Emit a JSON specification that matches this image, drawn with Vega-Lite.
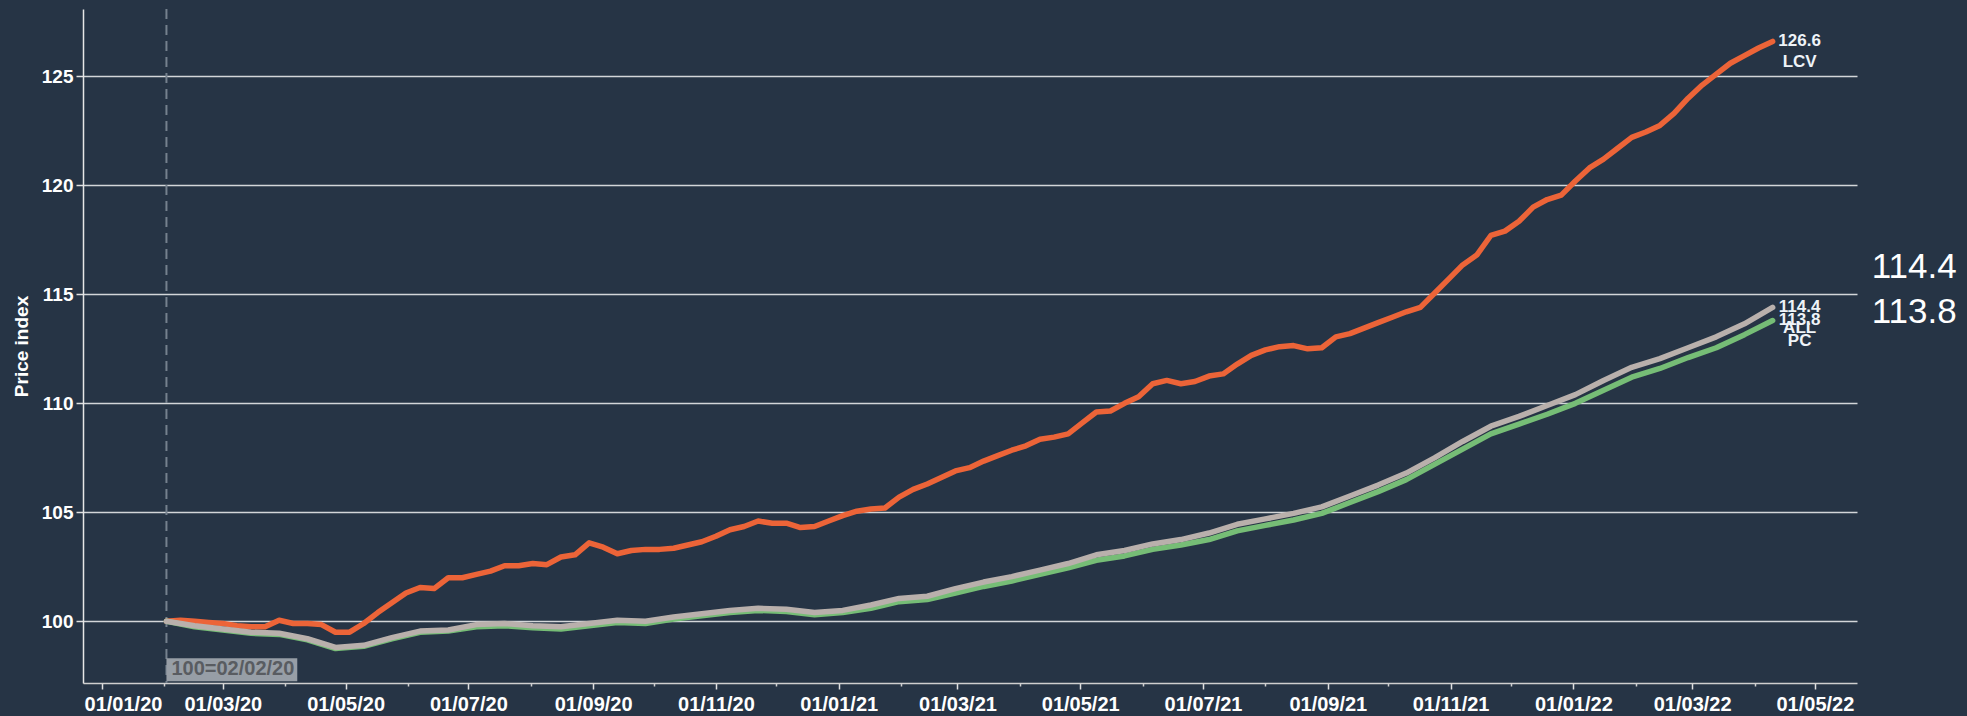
{
"$schema": "https://vega.github.io/schema/vega-lite/v6.json",
"width": 1774, "height": 674,
"autosize": {"type": "none"},
"padding": {"left": 83, "top": 9, "right": 110, "bottom": 33},
"background": "#263445",
"config": {"view": {"stroke": null}, "font": "Liberation Sans"},
"datasets": {
"series": [
{"date":"2020-02-02","series":"LCV","value":100.0},{"date":"2020-02-09","series":"LCV","value":100.05},{"date":"2020-02-16","series":"LCV","value":100.0},{"date":"2020-02-23","series":"LCV","value":99.95},{"date":"2020-03-01","series":"LCV","value":99.9},{"date":"2020-03-08","series":"LCV","value":99.8},{"date":"2020-03-15","series":"LCV","value":99.75},{"date":"2020-03-22","series":"LCV","value":99.75},{"date":"2020-03-29","series":"LCV","value":100.05},{"date":"2020-04-05","series":"LCV","value":99.9},{"date":"2020-04-12","series":"LCV","value":99.9},{"date":"2020-04-19","series":"LCV","value":99.85},{"date":"2020-04-26","series":"LCV","value":99.5},{"date":"2020-05-03","series":"LCV","value":99.5},{"date":"2020-05-10","series":"LCV","value":99.9},{"date":"2020-05-17","series":"LCV","value":100.4},{"date":"2020-05-24","series":"LCV","value":100.85},{"date":"2020-05-31","series":"LCV","value":101.3},{"date":"2020-06-07","series":"LCV","value":101.55},{"date":"2020-06-14","series":"LCV","value":101.5},{"date":"2020-06-21","series":"LCV","value":102.0},{"date":"2020-06-28","series":"LCV","value":102.0},{"date":"2020-07-05","series":"LCV","value":102.15},{"date":"2020-07-12","series":"LCV","value":102.3},{"date":"2020-07-19","series":"LCV","value":102.55},{"date":"2020-07-26","series":"LCV","value":102.55},{"date":"2020-08-02","series":"LCV","value":102.65},{"date":"2020-08-09","series":"LCV","value":102.6},{"date":"2020-08-16","series":"LCV","value":102.95},{"date":"2020-08-23","series":"LCV","value":103.05},{"date":"2020-08-30","series":"LCV","value":103.6},{"date":"2020-09-06","series":"LCV","value":103.4},{"date":"2020-09-13","series":"LCV","value":103.1},{"date":"2020-09-20","series":"LCV","value":103.25},{"date":"2020-09-27","series":"LCV","value":103.3},{"date":"2020-10-04","series":"LCV","value":103.3},{"date":"2020-10-11","series":"LCV","value":103.35},{"date":"2020-10-18","series":"LCV","value":103.5},{"date":"2020-10-25","series":"LCV","value":103.65},{"date":"2020-11-01","series":"LCV","value":103.9},{"date":"2020-11-08","series":"LCV","value":104.2},{"date":"2020-11-15","series":"LCV","value":104.35},{"date":"2020-11-22","series":"LCV","value":104.6},{"date":"2020-11-29","series":"LCV","value":104.5},{"date":"2020-12-06","series":"LCV","value":104.5},{"date":"2020-12-13","series":"LCV","value":104.3},{"date":"2020-12-20","series":"LCV","value":104.35},{"date":"2020-12-27","series":"LCV","value":104.6},
{"date":"2021-01-03","series":"LCV","value":104.85},{"date":"2021-01-10","series":"LCV","value":105.05},{"date":"2021-01-17","series":"LCV","value":105.15},{"date":"2021-01-24","series":"LCV","value":105.2},{"date":"2021-01-31","series":"LCV","value":105.7},{"date":"2021-02-07","series":"LCV","value":106.05},{"date":"2021-02-14","series":"LCV","value":106.3},{"date":"2021-02-21","series":"LCV","value":106.6},{"date":"2021-02-28","series":"LCV","value":106.9},{"date":"2021-03-07","series":"LCV","value":107.05},{"date":"2021-03-14","series":"LCV","value":107.35},{"date":"2021-03-21","series":"LCV","value":107.6},{"date":"2021-03-28","series":"LCV","value":107.85},{"date":"2021-04-04","series":"LCV","value":108.05},{"date":"2021-04-11","series":"LCV","value":108.35},{"date":"2021-04-18","series":"LCV","value":108.45},{"date":"2021-04-25","series":"LCV","value":108.6},{"date":"2021-05-02","series":"LCV","value":109.1},{"date":"2021-05-09","series":"LCV","value":109.6},{"date":"2021-05-16","series":"LCV","value":109.65},{"date":"2021-05-23","series":"LCV","value":110.0},{"date":"2021-05-30","series":"LCV","value":110.3},{"date":"2021-06-06","series":"LCV","value":110.9},{"date":"2021-06-13","series":"LCV","value":111.05},{"date":"2021-06-20","series":"LCV","value":110.9},{"date":"2021-06-27","series":"LCV","value":111.0},{"date":"2021-07-04","series":"LCV","value":111.25},{"date":"2021-07-11","series":"LCV","value":111.35},{"date":"2021-07-18","series":"LCV","value":111.8},{"date":"2021-07-25","series":"LCV","value":112.2},{"date":"2021-08-01","series":"LCV","value":112.45},{"date":"2021-08-08","series":"LCV","value":112.6},{"date":"2021-08-15","series":"LCV","value":112.65},{"date":"2021-08-22","series":"LCV","value":112.5},{"date":"2021-08-29","series":"LCV","value":112.55},{"date":"2021-09-05","series":"LCV","value":113.05},{"date":"2021-09-12","series":"LCV","value":113.2},{"date":"2021-09-19","series":"LCV","value":113.45},{"date":"2021-09-26","series":"LCV","value":113.7},{"date":"2021-10-03","series":"LCV","value":113.95},{"date":"2021-10-10","series":"LCV","value":114.2},{"date":"2021-10-17","series":"LCV","value":114.4},{"date":"2021-10-24","series":"LCV","value":115.05},{"date":"2021-10-31","series":"LCV","value":115.7},{"date":"2021-11-07","series":"LCV","value":116.35},{"date":"2021-11-14","series":"LCV","value":116.8},{"date":"2021-11-21","series":"LCV","value":117.7},{"date":"2021-11-28","series":"LCV","value":117.9},{"date":"2021-12-05","series":"LCV","value":118.35},{"date":"2021-12-12","series":"LCV","value":119.0},{"date":"2021-12-19","series":"LCV","value":119.35},{"date":"2021-12-26","series":"LCV","value":119.55},
{"date":"2022-01-02","series":"LCV","value":120.2},{"date":"2022-01-09","series":"LCV","value":120.8},{"date":"2022-01-16","series":"LCV","value":121.2},{"date":"2022-01-23","series":"LCV","value":121.7},{"date":"2022-01-30","series":"LCV","value":122.2},{"date":"2022-02-06","series":"LCV","value":122.45},{"date":"2022-02-13","series":"LCV","value":122.75},{"date":"2022-02-20","series":"LCV","value":123.3},{"date":"2022-02-27","series":"LCV","value":124.0},{"date":"2022-03-06","series":"LCV","value":124.6},{"date":"2022-03-13","series":"LCV","value":125.1},{"date":"2022-03-20","series":"LCV","value":125.6},{"date":"2022-03-27","series":"LCV","value":125.95},{"date":"2022-04-03","series":"LCV","value":126.3},{"date":"2022-04-10","series":"LCV","value":126.6},
{"date":"2020-02-02","series":"PC","value":100.0},{"date":"2020-02-16","series":"PC","value":99.75},{"date":"2020-03-01","series":"PC","value":99.6},{"date":"2020-03-15","series":"PC","value":99.45},{"date":"2020-03-29","series":"PC","value":99.4},{"date":"2020-04-12","series":"PC","value":99.15},{"date":"2020-04-26","series":"PC","value":98.75},{"date":"2020-05-10","series":"PC","value":98.85},{"date":"2020-05-24","series":"PC","value":99.2},{"date":"2020-06-07","series":"PC","value":99.5},{"date":"2020-06-21","series":"PC","value":99.55},{"date":"2020-07-05","series":"PC","value":99.75},{"date":"2020-07-19","series":"PC","value":99.8},{"date":"2020-08-02","series":"PC","value":99.7},{"date":"2020-08-16","series":"PC","value":99.65},{"date":"2020-08-30","series":"PC","value":99.8},{"date":"2020-09-13","series":"PC","value":99.95},{"date":"2020-09-27","series":"PC","value":99.9},{"date":"2020-10-11","series":"PC","value":100.1},{"date":"2020-10-25","series":"PC","value":100.25},{"date":"2020-11-08","series":"PC","value":100.4},{"date":"2020-11-22","series":"PC","value":100.5},{"date":"2020-12-06","series":"PC","value":100.45},{"date":"2020-12-20","series":"PC","value":100.3},{"date":"2021-01-03","series":"PC","value":100.4},{"date":"2021-01-17","series":"PC","value":100.6},{"date":"2021-01-31","series":"PC","value":100.9},{"date":"2021-02-14","series":"PC","value":101.0},{"date":"2021-02-28","series":"PC","value":101.3},{"date":"2021-03-14","series":"PC","value":101.6},{"date":"2021-03-28","series":"PC","value":101.85},{"date":"2021-04-11","series":"PC","value":102.15},{"date":"2021-04-25","series":"PC","value":102.45},{"date":"2021-05-09","series":"PC","value":102.8},{"date":"2021-05-23","series":"PC","value":103.0},{"date":"2021-06-06","series":"PC","value":103.3},{"date":"2021-06-20","series":"PC","value":103.5},{"date":"2021-07-04","series":"PC","value":103.75},{"date":"2021-07-18","series":"PC","value":104.15},{"date":"2021-08-01","series":"PC","value":104.4},{"date":"2021-08-15","series":"PC","value":104.65},{"date":"2021-08-29","series":"PC","value":104.95},{"date":"2021-09-12","series":"PC","value":105.45},{"date":"2021-09-26","series":"PC","value":105.95},{"date":"2021-10-10","series":"PC","value":106.5},{"date":"2021-10-24","series":"PC","value":107.2},{"date":"2021-11-07","series":"PC","value":107.9},{"date":"2021-11-21","series":"PC","value":108.6},{"date":"2021-12-05","series":"PC","value":109.05},{"date":"2021-12-19","series":"PC","value":109.5},{"date":"2022-01-02","series":"PC","value":110.0},{"date":"2022-01-16","series":"PC","value":110.6},{"date":"2022-01-30","series":"PC","value":111.2},{"date":"2022-02-13","series":"PC","value":111.6},{"date":"2022-02-27","series":"PC","value":112.1},{"date":"2022-03-13","series":"PC","value":112.55},{"date":"2022-03-27","series":"PC","value":113.15},{"date":"2022-04-10","series":"PC","value":113.8},
{"date":"2020-02-02","series":"ALL","value":100.0},{"date":"2020-02-16","series":"ALL","value":99.8},{"date":"2020-03-01","series":"ALL","value":99.65},{"date":"2020-03-15","series":"ALL","value":99.5},{"date":"2020-03-29","series":"ALL","value":99.45},{"date":"2020-04-12","series":"ALL","value":99.2},{"date":"2020-04-26","series":"ALL","value":98.8},{"date":"2020-05-10","series":"ALL","value":98.9},{"date":"2020-05-24","series":"ALL","value":99.25},{"date":"2020-06-07","series":"ALL","value":99.55},{"date":"2020-06-21","series":"ALL","value":99.6},{"date":"2020-07-05","series":"ALL","value":99.85},{"date":"2020-07-19","series":"ALL","value":99.9},{"date":"2020-08-02","series":"ALL","value":99.8},{"date":"2020-08-16","series":"ALL","value":99.75},{"date":"2020-08-30","series":"ALL","value":99.9},{"date":"2020-09-13","series":"ALL","value":100.05},{"date":"2020-09-27","series":"ALL","value":100.0},{"date":"2020-10-11","series":"ALL","value":100.2},{"date":"2020-10-25","series":"ALL","value":100.35},{"date":"2020-11-08","series":"ALL","value":100.5},{"date":"2020-11-22","series":"ALL","value":100.6},{"date":"2020-12-06","series":"ALL","value":100.55},{"date":"2020-12-20","series":"ALL","value":100.4},{"date":"2021-01-03","series":"ALL","value":100.5},{"date":"2021-01-17","series":"ALL","value":100.75},{"date":"2021-01-31","series":"ALL","value":101.05},{"date":"2021-02-14","series":"ALL","value":101.15},{"date":"2021-02-28","series":"ALL","value":101.5},{"date":"2021-03-14","series":"ALL","value":101.8},{"date":"2021-03-28","series":"ALL","value":102.05},{"date":"2021-04-11","series":"ALL","value":102.35},{"date":"2021-04-25","series":"ALL","value":102.65},{"date":"2021-05-09","series":"ALL","value":103.05},{"date":"2021-05-23","series":"ALL","value":103.25},{"date":"2021-06-06","series":"ALL","value":103.55},{"date":"2021-06-20","series":"ALL","value":103.75},{"date":"2021-07-04","series":"ALL","value":104.05},{"date":"2021-07-18","series":"ALL","value":104.45},{"date":"2021-08-01","series":"ALL","value":104.7},{"date":"2021-08-15","series":"ALL","value":104.95},{"date":"2021-08-29","series":"ALL","value":105.25},{"date":"2021-09-12","series":"ALL","value":105.75},{"date":"2021-09-26","series":"ALL","value":106.25},{"date":"2021-10-10","series":"ALL","value":106.8},{"date":"2021-10-24","series":"ALL","value":107.5},{"date":"2021-11-07","series":"ALL","value":108.25},{"date":"2021-11-21","series":"ALL","value":108.95},{"date":"2021-12-05","series":"ALL","value":109.4},{"date":"2021-12-19","series":"ALL","value":109.9},{"date":"2022-01-02","series":"ALL","value":110.4},{"date":"2022-01-16","series":"ALL","value":111.05},{"date":"2022-01-30","series":"ALL","value":111.65},{"date":"2022-02-13","series":"ALL","value":112.05},{"date":"2022-02-27","series":"ALL","value":112.55},{"date":"2022-03-13","series":"ALL","value":113.05},{"date":"2022-03-27","series":"ALL","value":113.65},{"date":"2022-04-10","series":"ALL","value":114.4}
],
"ends": [
{"date":"2022-04-10","series":"LCV","value":126.6,"label":"126.6\nLCV"},
{"date":"2022-04-10","series":"ALL","value":114.4,"label":"114.4\nALL"},
{"date":"2022-04-10","series":"PC","value":113.8,"label":"113.8\nPC"}
],
"note": [
{"date":"2020-02-02","end":"2020-04-07","low":97.25,"high":98.3,"mid":97.8,"label":"100=02/02/20"}
]
},
"layer": [
{
"data": {"name": "note"},
"mark": {"type": "rule", "color": "#75818e", "strokeWidth": 2, "strokeDash": [10, 6]},
"encoding": {
"x": {"field": "date", "type": "temporal",
"scale": {"type": "utc", "nice": false, "domain": [{"year": 2019, "month": "Dec", "date": 22, "hours": 13, "utc": true}, {"year": 2022, "month": "May", "date": 21, "hours": 22, "utc": true}]},
"axis": {"orient": "bottom", "title": null, "labels": false, "domain": false, "grid": false, "tickSize": 3, "tickColor": "#d0d0d0", "tickWidth": 1.5,
"values": [{"year":2020,"month":"Feb","date":1,"utc":true},{"year":2020,"month":"Apr","date":1,"utc":true},{"year":2020,"month":"Jun","date":1,"utc":true},{"year":2020,"month":"Aug","date":1,"utc":true},{"year":2020,"month":"Oct","date":1,"utc":true},{"year":2020,"month":"Dec","date":1,"utc":true},{"year":2021,"month":"Feb","date":1,"utc":true},{"year":2021,"month":"Apr","date":1,"utc":true},{"year":2021,"month":"Jun","date":1,"utc":true},{"year":2021,"month":"Aug","date":1,"utc":true},{"year":2021,"month":"Oct","date":1,"utc":true},{"year":2021,"month":"Dec","date":1,"utc":true},{"year":2022,"month":"Feb","date":1,"utc":true},{"year":2022,"month":"Apr","date":1,"utc":true}]}}
}
},
{
"data": {"name": "series"},
"mark": {"type": "line", "strokeWidth": 5.5, "strokeCap": "round", "strokeJoin": "round"},
"encoding": {
"x": {"field": "date", "type": "temporal",
"axis": {"orient": "bottom", "title": null, "format": "%d/%m/%y", "grid": false, "labelFontSize": 20, "labelFontWeight": "bold", "labelColor": "#ffffff", "labelPadding": 5, "labelFlush": 20, "labelFlushOffset": 18, "labelOverlap": false, "tickSize": 6, "tickWidth": 1.5, "tickColor": "#e0e0e0", "domainColor": "#cfcfcf", "domainWidth": 1.5,
"values": [{"year":2020,"month":"Jan","date":1,"utc":true},{"year":2020,"month":"Mar","date":1,"utc":true},{"year":2020,"month":"May","date":1,"utc":true},{"year":2020,"month":"Jul","date":1,"utc":true},{"year":2020,"month":"Sep","date":1,"utc":true},{"year":2020,"month":"Nov","date":1,"utc":true},{"year":2021,"month":"Jan","date":1,"utc":true},{"year":2021,"month":"Mar","date":1,"utc":true},{"year":2021,"month":"May","date":1,"utc":true},{"year":2021,"month":"Jul","date":1,"utc":true},{"year":2021,"month":"Sep","date":1,"utc":true},{"year":2021,"month":"Nov","date":1,"utc":true},{"year":2022,"month":"Jan","date":1,"utc":true},{"year":2022,"month":"Mar","date":1,"utc":true},{"year":2022,"month":"May","date":1,"utc":true}]}},
"y": {"field": "value", "type": "quantitative",
"scale": {"domain": [97.17, 128.09], "nice": false, "zero": false},
"axis": {"title": "Price index", "values": [100, 105, 110, 115, 120, 125], "grid": true, "gridColor": "#d3d6d9", "gridWidth": 1.4, "labelFontSize": 19, "labelFontWeight": "bold", "labelColor": "#ffffff", "labelPadding": 3, "tickSize": 7, "tickWidth": 1.5, "tickColor": "#e0e0e0", "domainColor": "#e6e6e6", "domainWidth": 1.5, "titleFontSize": 19, "titleFontWeight": "bold", "titleColor": "#ffffff", "titleAngle": -90, "titleX": -56, "titleY": 337, "titleAlign": "center", "titleBaseline": "alphabetic"}},
"color": {"field": "series", "type": "nominal", "legend": null,
"scale": {"domain": ["LCV", "PC", "ALL"], "range": ["#ec6438", "#76bd76", "#b9b0ac"]}}
}
},
{
"data": {"name": "note"},
"mark": {"type": "rect", "color": "#979ea6"},
"encoding": {
"x": {"field": "date", "type": "temporal", "axis": null},
"x2": {"field": "end"},
"y": {"field": "high", "type": "quantitative", "title": "Price index"},
"y2": {"field": "low"}
}
},
{
"data": {"name": "note"},
"mark": {"type": "text", "align": "left", "baseline": "middle", "dx": 5, "fontSize": 20, "fontWeight": "bold", "color": "#595c61"},
"encoding": {
"x": {"field": "date", "type": "temporal", "axis": null},
"y": {"field": "mid", "type": "quantitative", "title": "Price index"},
"text": {"field": "label"}
}
},
{
"data": {"name": "ends"},
"mark": {"type": "text", "align": "center", "baseline": "middle", "dx": 27, "fontSize": 17, "fontWeight": "bold", "lineHeight": 21, "lineBreak": "\n", "color": "#eef3f8"},
"encoding": {
"x": {"field": "date", "type": "temporal", "axis": null},
"y": {"field": "value", "type": "quantitative", "title": "Price index"},
"text": {"field": "label"}
}
},
{
"data": {"name": "ends"},
"transform": [{"filter": "datum.series === 'ALL'"}],
"mark": {"type": "text", "align": "left", "baseline": "alphabetic", "dx": 99, "dy": -29, "fontSize": 35, "color": "#ffffff"},
"encoding": {
"x": {"field": "date", "type": "temporal", "axis": null},
"y": {"field": "value", "type": "quantitative", "title": "Price index"},
"text": {"field": "value", "format": ".1f"}
}
},
{
"data": {"name": "ends"},
"transform": [{"filter": "datum.series === 'PC'"}],
"mark": {"type": "text", "align": "left", "baseline": "alphabetic", "dx": 99, "dy": 3, "fontSize": 35, "color": "#ffffff"},
"encoding": {
"x": {"field": "date", "type": "temporal", "axis": null},
"y": {"field": "value", "type": "quantitative", "title": "Price index"},
"text": {"field": "value", "format": ".1f"}
}
}
],
"resolve": {"axis": {"x": "independent"}}
}
